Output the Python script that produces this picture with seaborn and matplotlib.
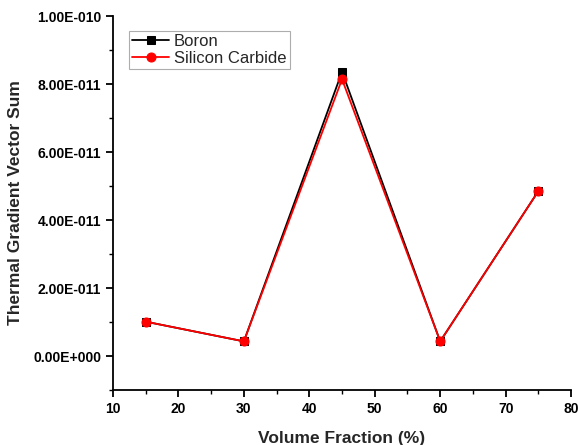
import matplotlib
matplotlib.use("Agg")
import matplotlib.pyplot as plt
import matplotlib.ticker as mticker
import pandas as pd
import seaborn as sns

volume_fraction = [15, 30, 45, 60, 75]
boron = [1.01e-11, 0.43e-11, 8.36e-11, 0.43e-11, 4.85e-11]
silicon_carbide = [1.01e-11, 0.43e-11, 8.14e-11, 0.43e-11, 4.85e-11]


def sci_label(v, pos):
    if v == 0:
        return "0.00E+000"
    mant, exp = f"{v:.2E}".split("E")
    exp = int(exp)
    sign = "-" if exp < 0 else "+"
    return f"{mant}E{sign}{abs(exp):03d}"


sns.set_theme(style="ticks")
plt.rcParams["font.family"] = ["Liberation Sans", "DejaVu Sans"]

df = pd.DataFrame({"x": volume_fraction, "boron": boron, "sic": silicon_carbide})

fig = plt.figure(figsize=(5.78, 4.45), dpi=100)
ax = fig.add_axes([0.1955, 0.1236, 0.7925, 0.8404])

sns.lineplot(data=df, x="x", y="boron", ax=ax, color="black", marker="s",
             markersize=6, markeredgecolor="black", linewidth=1.3, label="Boron")
sns.lineplot(data=df, x="x", y="sic", ax=ax, color="red", marker="o",
             markersize=6.5, markeredgecolor="red", linewidth=1.3, label="Silicon Carbide")

ax.set_xlim(10, 80)
ax.set_ylim(-1e-11, 1e-10)
ax.set_xticks(range(10, 81, 10))
ax.xaxis.set_minor_locator(mticker.MultipleLocator(5))
ax.set_yticks([i * 2e-11 for i in range(6)])
ax.yaxis.set_minor_locator(mticker.MultipleLocator(1e-11))
ax.yaxis.set_major_formatter(mticker.FuncFormatter(sci_label))
ax.yaxis.get_offset_text().set_visible(False)

sns.despine(ax=ax)
for s in ["left", "bottom"]:
    ax.spines[s].set_linewidth(1.3)
    ax.spines[s].set_color("black")
ax.tick_params(which="major", length=5, width=1.3, direction="out", labelsize=10, colors="black")
ax.tick_params(which="minor", length=3, width=1.0, direction="out", colors="black")
for lab in ax.get_xticklabels() + ax.get_yticklabels():
    lab.set_fontweight("bold")

ax.set_xlabel("Volume Fraction (%)", fontsize=12.5, fontweight="bold", labelpad=11)
ax.set_ylabel("Thermal Gradient Vector Sum", fontsize=12.5, fontweight="bold", labelpad=7)

leg = ax.legend(loc="upper left", bbox_to_anchor=(0.035, 0.96), fontsize=12,
                frameon=True, fancybox=False, handlelength=2.2, borderpad=0.2,
                labelspacing=0.1, handletextpad=0.3, borderaxespad=0)
leg.get_frame().set_edgecolor("#999999")
leg.get_frame().set_linewidth(0.8)

fig.savefig("out.png", dpi=100)
